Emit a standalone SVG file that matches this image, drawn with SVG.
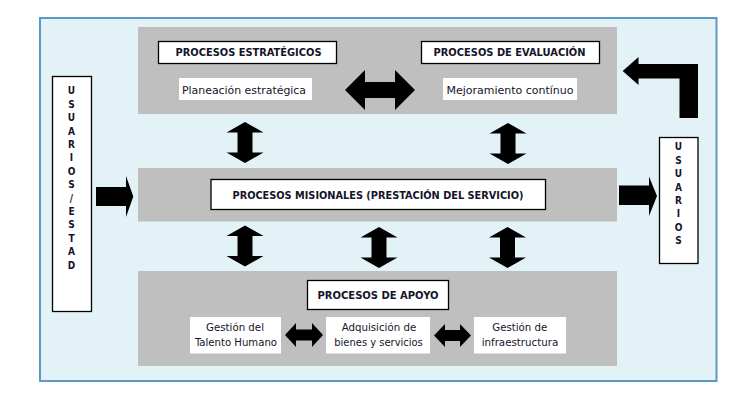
<svg xmlns="http://www.w3.org/2000/svg" width="751" height="396" viewBox="0 0 751 396">
<style>
.band{fill:#c0bfbf}
.hdr{fill:#fff;stroke:#000;stroke-width:1.3}
.wb{fill:#fff}
.tb{font-family:"DejaVu Sans Condensed","DejaVu Sans",sans-serif;font-weight:bold;font-size:11px;fill:#14142a}
.tr{font-family:"DejaVu Sans Condensed","DejaVu Sans",sans-serif;font-size:11px;fill:#14142a}
.tv{font-family:"DejaVu Sans Condensed","DejaVu Sans",sans-serif;font-weight:bold;font-size:10px;fill:#14142a;text-anchor:middle}
.arr{fill:#000}
</style>
<rect width="751" height="396" fill="#fff"/>
<rect x="40" y="18" width="676.5" height="363" fill="#e3f2f7" stroke="#5a9ac4" stroke-width="2"/>

<g id="estrategicos-band">
<rect class="band" x="138" y="27" width="479" height="87"/>
</g>
<g id="procesos-estrategicos">
<rect class="hdr" x="158.5" y="41.5" width="178" height="22"/>
<text class="tb" x="175.5" y="56.3" textLength="146" lengthAdjust="spacingAndGlyphs">PROCESOS ESTRATÉGICOS</text>
</g>
<g id="procesos-evaluacion">
<rect class="hdr" x="421.5" y="41.5" width="178" height="22"/>
<text class="tb" x="433.5" y="56.3" textLength="152" lengthAdjust="spacingAndGlyphs">PROCESOS DE EVALUACIÓN</text>
</g>
<g id="planeacion">
<rect class="wb" x="179" y="78" width="133" height="22"/>
<text class="tr" x="182" y="94" textLength="124" lengthAdjust="spacingAndGlyphs">Planeación estratégica</text>
</g>
<g id="mejoramiento">
<rect class="wb" x="443" y="78" width="134" height="22"/>
<text class="tr" x="446.5" y="94" textLength="127" lengthAdjust="spacingAndGlyphs">Mejoramiento contínuo</text>
</g>

<g id="misionales-band">
<rect class="band" x="138" y="168" width="479" height="53.5"/>
</g>
<g id="procesos-misionales">
<rect class="hdr" x="211" y="179.5" width="334.5" height="30"/>
<text class="tb" x="232.5" y="198.6" textLength="291" lengthAdjust="spacingAndGlyphs">PROCESOS MISIONALES (PRESTACIÓN DEL SERVICIO)</text>
</g>

<g id="apoyo-band">
<rect class="band" x="138" y="271" width="479" height="95"/>
</g>
<g id="procesos-apoyo">
<rect class="hdr" x="307.5" y="280.5" width="141" height="29"/>
<text class="tb" x="317.5" y="299" textLength="121" lengthAdjust="spacingAndGlyphs">PROCESOS DE APOYO</text>
</g>
<g id="talento-humano">
<rect class="wb" x="190" y="317" width="91" height="36.5"/>
<text class="tr" x="206" y="330.8" textLength="58" lengthAdjust="spacingAndGlyphs">Gestión del</text>
<text class="tr" x="195" y="346" textLength="82" lengthAdjust="spacingAndGlyphs">Talento Humano</text>
</g>
<g id="adquisicion">
<rect class="wb" x="326" y="317" width="104" height="36.5"/>
<text class="tr" x="341.7" y="330.8" textLength="74.5" lengthAdjust="spacingAndGlyphs">Adquisición de</text>
<text class="tr" x="334.3" y="346" textLength="88.5" lengthAdjust="spacingAndGlyphs">bienes y servicios</text>
</g>
<g id="infraestructura">
<rect class="wb" x="474" y="317" width="92" height="36.5"/>
<text class="tr" x="492.3" y="330.8" textLength="55" lengthAdjust="spacingAndGlyphs">Gestión de</text>
<text class="tr" x="481.7" y="346" textLength="76.5" lengthAdjust="spacingAndGlyphs">infraestructura</text>
</g>

<g id="usuarios-estad">
<rect class="hdr" x="52.5" y="76.5" width="39" height="235"/>
<text class="tv" x="71.5" y="94.3">U</text>
<text class="tv" x="71.5" y="107.7">S</text>
<text class="tv" x="71.5" y="121.1">U</text>
<text class="tv" x="71.5" y="134.5">A</text>
<text class="tv" x="71.5" y="147.9">R</text>
<text class="tv" x="71.5" y="161.3">I</text>
<text class="tv" x="71.5" y="174.7">O</text>
<text class="tv" x="71.5" y="188.1">S</text>
<text class="tv" x="71.5" y="201.5">/</text>
<text class="tv" x="71.5" y="214.9">E</text>
<text class="tv" x="71.5" y="228.3">S</text>
<text class="tv" x="71.5" y="241.7">T</text>
<text class="tv" x="71.5" y="255.1">A</text>
<text class="tv" x="71.5" y="268.5">D</text>
</g>
<g id="usuarios">
<rect class="hdr" x="659.5" y="137.5" width="38.5" height="126"/>
<text class="tv" x="678.5" y="150.3">U</text>
<text class="tv" x="678.5" y="163.7">S</text>
<text class="tv" x="678.5" y="177.1">U</text>
<text class="tv" x="678.5" y="190.5">A</text>
<text class="tv" x="678.5" y="203.9">R</text>
<text class="tv" x="678.5" y="217.3">I</text>
<text class="tv" x="678.5" y="230.7">O</text>
<text class="tv" x="678.5" y="244.1">S</text>
</g>

<g id="connectors">
<polygon class="arr" points="345,90 365,70 365,82 395,82 395,70 415,90 395,110 395,98 365,98 365,110"/>
<polygon class="arr" points="245,122 263.5,132.5 252.5,132.5 252.5,152.5 263.5,152.5 245,163 226.5,152.5 237.5,152.5 237.5,132.5 226.5,132.5"/>
<polygon class="arr" points="508,123 526.5,133.5 515.5,133.5 515.5,153.5 526.5,153.5 508,164 489.5,153.5 500.5,153.5 500.5,133.5 489.5,133.5"/>
<polygon class="arr" points="245,225.5 263.5,236 252.5,236 252.5,256 263.5,256 245,266.5 226.5,256 237.5,256 237.5,236 226.5,236"/>
<polygon class="arr" points="379,227 397.5,237.5 386.5,237.5 386.5,257.5 397.5,257.5 379,268 360.5,257.5 371.5,257.5 371.5,237.5 360.5,237.5"/>
<polygon class="arr" points="507.5,227 526,237.5 515,237.5 515,257.5 526,257.5 507.5,268 489,257.5 500,257.5 500,237.5 489,237.5"/>
<polygon class="arr" points="285,335 296,323 296,329.5 312,329.5 312,323 323,335 312,347 312,340.5 296,340.5 296,347"/>
<polygon class="arr" points="434,335.5 445,324 445,330 460,330 460,324 471,335.5 460,347 460,341 445,341 445,347"/>
<polygon class="arr" points="96,187 126,187 126,176 133.3,196.5 126,217 126,206 96,206"/>
<polygon class="arr" points="619,185.5 649,185.5 649,176.5 657,196 649,216 649,205 619,205"/>
<polygon class="arr" points="622.7,71 638.5,57 638.5,64 698,64 698,118 679.5,118 679.5,78.5 638.5,78.5 638.5,85"/>
</g>
</svg>
